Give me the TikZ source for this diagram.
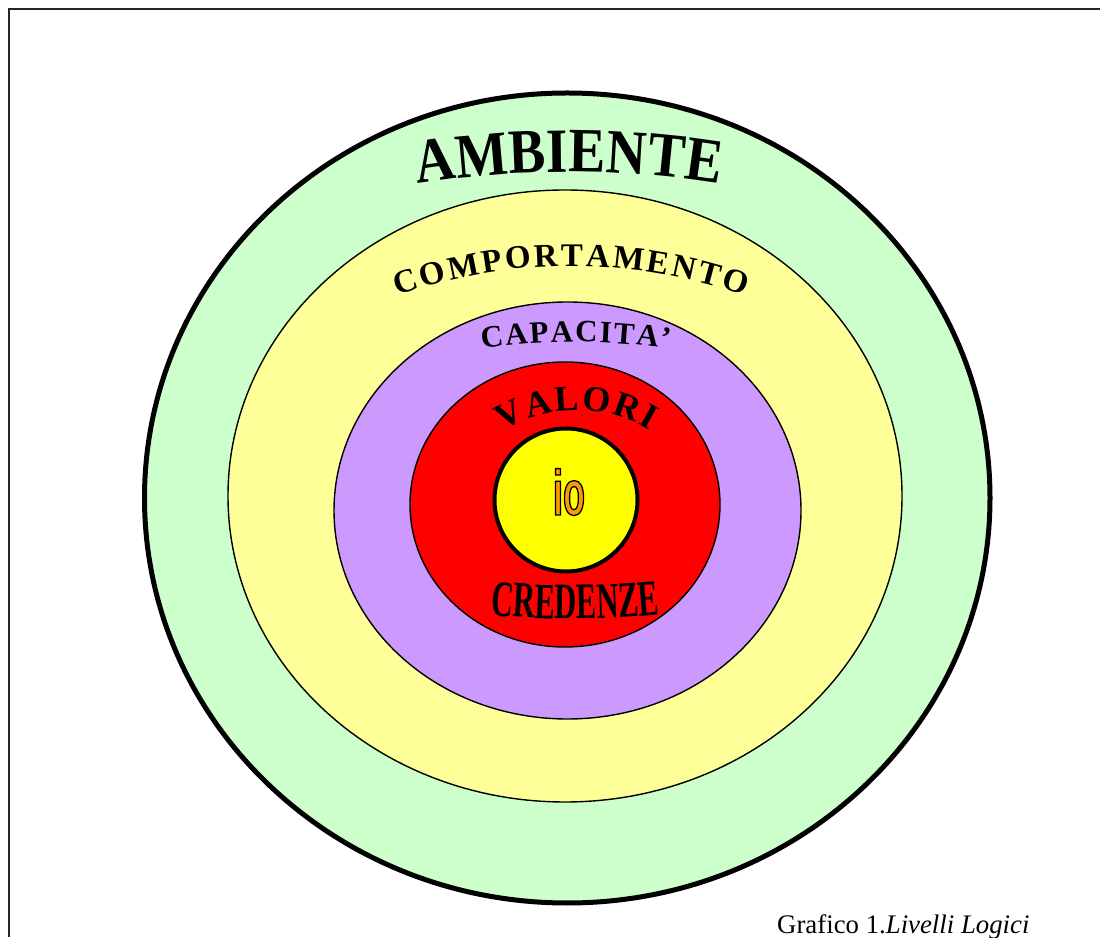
\documentclass[tikz,border=0pt]{standalone}
\usepackage{fontspec}
\setmainfont{Liberation Serif}
\newfontfamily\ambfont[FakeStretch=0.88]{Liberation Serif}
\newfontfamily\credfont[FakeStretch=0.6]{Liberation Serif}
\newfontfamily\iofont[FakeStretch=0.56, FakeBold=2]{Liberation Sans}
\usetikzlibrary{decorations.text}
\definecolor{envgreen}{HTML}{CCFFCC}
\definecolor{behyellow}{HTML}{FFFF99}
\definecolor{cappurple}{HTML}{CC99FF}
\definecolor{valred}{HTML}{FF0000}
\definecolor{ioyellow}{HTML}{FFFF00}
\definecolor{ioorange}{HTML}{FF9900}
\newcommand\ambsize{\ambfont\bfseries\fontsize{63}{63}\selectfont}
\newcommand\midsize{\bfseries\fontsize{33}{33}\selectfont}
\newcommand\capsize{\bfseries\fontsize{31}{31}\selectfont}
\newcommand\valsize{\bfseries\fontsize{36}{36}\selectfont}
\newcommand\credsize{\credfont\bfseries\fontsize{51}{51}\selectfont}
\newcommand\outlined[1]{\special{pdf:code 0 0 0 RG}#1}
\begin{document}
\begin{tikzpicture}[x=1pt,y=1pt,
  ring/.style={draw=black, line width=1.4pt},
  thickring/.style={draw=black, line width=5pt},
  arctext/.style={decorate, decoration={text along path, text align=fit to path, text={#1}}},
  iotext/.style={anchor=base, inner sep=0pt, font=\iofont\bfseries\fontsize{64}{64}\selectfont}]
\useasboundingbox (0,0) rectangle (1100,937);
% frame
\draw[line width=2pt, black!85] (9,0) -- (9,928) -- (1100,928);
% rings
\path[thickring, fill=envgreen] (567.25,439) ellipse [x radius=422.75pt, y radius=405pt];
\path[ring, fill=behyellow] (565,441) ellipse [x radius=337pt, y radius=306pt];
\path[ring, fill=cappurple] (567.5,426.5) ellipse [x radius=233.5pt, y radius=208.5pt];
\path[ring, fill=valred] (565,432.5) ellipse [x radius=155pt, y radius=142.5pt];
\path[draw=black, line width=4pt, fill=ioyellow] (566,437) circle [radius=71.5pt];
% curved labels
\path[arctext={|\ambsize|AMBIENTE}] (568.5,-197) ++(99.06:962) arc[start angle=99.06, end angle=80.94, radius=962];
\path[arctext={|\midsize|COMPORTAMENTO}] (571,154) ++(109.6:517) arc[start angle=109.6, end angle=70.4, radius=517];
\path[arctext={|\capsize|CAPACITA’}] (576,-40) ++(98.5:635) arc[start angle=98.5, end angle=81.5, radius=635];
\path[arctext={|\valsize|VALORI}] (576.5,387) ++(121.7:140) arc[start angle=121.7, end angle=58.3, radius=140];
\path[arctext={|\credsize|CREDENZE}] (575,1218) ++(264.6:900) arc[start angle=264.6, end angle=275.4, radius=900];
% io, orange letters with black outline
\node[iotext, text=ioorange] (io) at (569,422) {\outlined{io}};
% caption
\node[anchor=base west, inner sep=0pt, font=\fontsize{26.8}{26.8}\selectfont] (caption) at (777,4) {Grafico 1.\textit{Livelli Logici}};
\end{tikzpicture}
\end{document}
